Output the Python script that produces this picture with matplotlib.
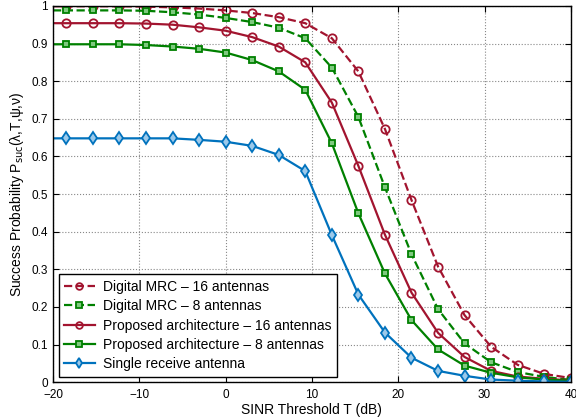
import numpy as np
import matplotlib
matplotlib.use("Agg")
import matplotlib.pyplot as plt

plt.rcParams["font.family"] = ["Liberation Sans", "DejaVu Sans"]

# SINR threshold (dB): line starts at -20, markers every 40/13 dB
T_db = np.array([-20.0, -18.46, -15.38, -12.31, -9.23, -6.15, -3.08, 0.0, 3.08, 6.15,
                 9.23, 12.31, 15.38, 18.46, 21.54, 24.62, 27.69, 30.77, 33.85, 36.92, 40.0])

mrc16 = [0.999, 0.999, 0.999, 0.999, 0.998, 0.996, 0.993, 0.988, 0.981, 0.970,
         0.954, 0.914, 0.826, 0.673, 0.484, 0.307, 0.178, 0.094, 0.046, 0.022, 0.011]
mrc8 = [0.988, 0.988, 0.988, 0.988, 0.987, 0.983, 0.977, 0.968, 0.957, 0.942,
        0.914, 0.836, 0.705, 0.518, 0.340, 0.194, 0.103, 0.053, 0.027, 0.014, 0.006]
prop16 = [0.954, 0.954, 0.954, 0.954, 0.953, 0.950, 0.943, 0.934, 0.917, 0.892,
          0.850, 0.743, 0.575, 0.392, 0.238, 0.131, 0.067, 0.030, 0.015, 0.009, 0.005]
prop8 = [0.898, 0.898, 0.898, 0.898, 0.896, 0.892, 0.886, 0.876, 0.856, 0.826,
         0.777, 0.635, 0.449, 0.289, 0.165, 0.087, 0.044, 0.025, 0.013, 0.007, 0.004]
single = [0.648, 0.648, 0.648, 0.648, 0.648, 0.648, 0.644, 0.639, 0.628, 0.604,
          0.561, 0.391, 0.233, 0.132, 0.065, 0.030, 0.017, 0.007, 0.004, 0.002, 0.001]

RED = "#A2142F"
GREEN = "#008000"
BLUE = "#0072BD"

fig = plt.figure(figsize=(5.76, 4.2), dpi=100)
ax = fig.add_axes([0.092, 0.090, 0.899, 0.896])

mk = dict(markevery=slice(1, None), markersize=6, markeredgewidth=1.3, linewidth=1.6)
sq = dict(markevery=slice(1, None), markersize=5, markeredgewidth=1.3, linewidth=1.6)
ax.plot(T_db, mrc16, "--", color=RED, marker="o", mfc="none", mec=RED,
        label="Digital MRC \u2013 16 antennas", **mk)
ax.plot(T_db, mrc8, "--", color=GREEN, marker="s", mfc="#7FC97F", mec=GREEN,
        label="Digital MRC \u2013 8 antennas", **sq)
ax.plot(T_db, prop16, "-", color=RED, marker="o", mfc="none", mec=RED,
        label="Proposed architecture \u2013 16 antennas", **mk)
ax.plot(T_db, prop8, "-", color=GREEN, marker="s", mfc="#7FC97F", mec=GREEN,
        label="Proposed architecture \u2013 8 antennas", **sq)
ax.plot(T_db, single, "-", color=BLUE, marker="d", mfc="#9CC9EA", mec=BLUE,
        label="Single receive antenna", **mk)

ax.set_xlim(-20, 40)
ax.set_ylim(0, 1)
ax.set_xticks([-20, -10, 0, 10, 20, 30, 40])
ax.set_yticks(np.arange(0, 1.01, 0.1))
ax.set_yticklabels(["0", "0.1", "0.2", "0.3", "0.4", "0.5", "0.6", "0.7", "0.8", "0.9", "1"])
ax.tick_params(direction="in", top=True, right=True, labelsize=8.5, length=4)
ax.tick_params(axis="x", pad=5)
ax.grid(True, linestyle=":", color="#888888", linewidth=0.8)
for s in ax.spines.values():
    s.set_linewidth(1.0)

ax.set_xlabel("SINR Threshold T (dB)", fontsize=10, labelpad=1)
ax.set_ylabel("Success Probability P$_{\\mathrm{suc}}$(\u03bb,T,\u03c8,\u03bd)", fontsize=10, labelpad=4)

leg = ax.legend(loc="lower left", fontsize=10, frameon=True, fancybox=False,
                edgecolor="black", framealpha=1, borderaxespad=0.4,
                handlelength=2.2, handletextpad=0.6, labelspacing=0.38, borderpad=0.4,
                markerscale=0.8)
leg.get_frame().set_linewidth(1.0)

fig.savefig("out.png", dpi=100)
